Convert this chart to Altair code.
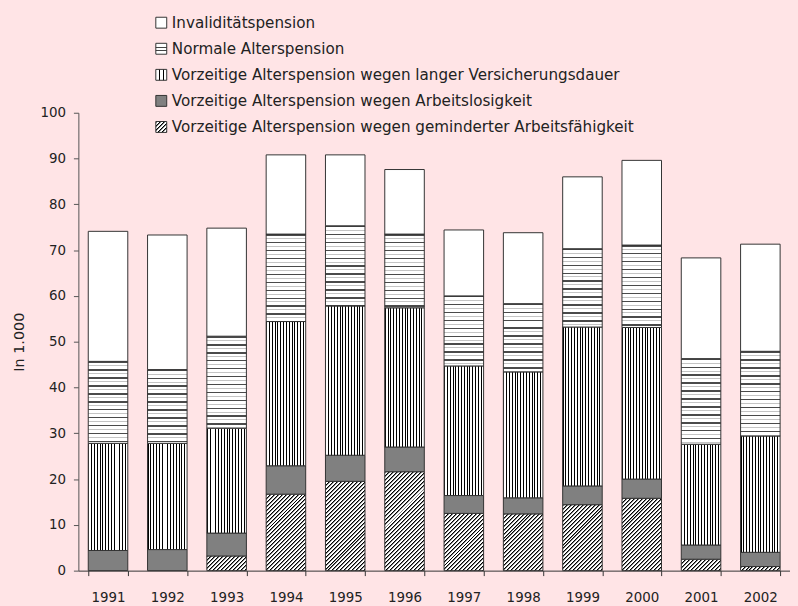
import json
import math
import altair as alt

# ---------------- data ----------------
years = ["1991", "1992", "1993", "1994", "1995", "1996",
         "1997", "1998", "1999", "2000", "2001", "2002"]

series = [
    "Invaliditätspension",
    "Normale Alterspension",
    "Vorzeitige Alterspension wegen langer Versicherungsdauer",
    "Vorzeitige Alterspension wegen Arbeitslosigkeit",
    "Vorzeitige Alterspension wegen geminderter Arbeitsfähigkeit",
]

# values in 1,000 (segment sizes)
invalid = [28.4, 29.4, 23.6, 17.3, 15.5, 14.1, 14.4, 15.5, 15.7, 18.5, 22.0, 23.4]
normal = [17.9, 16.1, 20.1, 19.1, 17.5, 16.1, 15.3, 14.9, 17.1, 18.0, 18.7, 18.5]
long_ins = [23.4, 23.2, 22.9, 31.5, 32.6, 30.4, 28.3, 27.5, 34.7, 33.1, 22.0, 25.4]
unemp = [4.4, 4.6, 5.0, 6.2, 5.7, 5.4, 3.9, 3.5, 4.1, 4.2, 3.1, 3.1]
reduced = [0.0, 0.0, 3.2, 16.7, 19.5, 21.6, 12.5, 12.4, 14.4, 15.8, 2.5, 0.9]

y_ticks = list(range(0, 101, 10))

# ---------------- layout / style ----------------
W, H = 718, 462
Y_MAX = 100
FONT = "DejaVu Sans"
BG = "#ffe4e6"
step = W / len(years)
bw = step * 2 / 3
ppu = H / Y_MAX


def tile(pattern, length):
    stops = []
    pos = 0.0
    while pos < length - 1e-9:
        for seg, col in pattern:
            a = pos / length
            b = min(pos + seg, length) / length
            stops.append({"offset": round(a, 6), "color": col})
            stops.append({"offset": round(b, 6), "color": col})
            pos += seg
            if pos >= length - 1e-9:
                break
    return stops


r2 = 1 / math.sqrt(2)
H_PAT = [(1.5, "#4a4a4a"), (2.5, "#ffffff"), (1.0, "#c4c4c4"), (3.0, "#ffffff")]
V_PAT = [(1.0, "#000000"), (1.85, "#ffffff")]
D_PAT = [(r2, "#000000"), (r2, "#808080"), (2 * r2, "#ffffff")]


def grad_h(h, pat=H_PAT):
    return {"gradient": "linear", "x1": 0, "y1": 0, "x2": 0, "y2": 1,
            "stops": tile(pat, max(h, 0.5))}


def grad_v(w, pat=V_PAT):
    return {"gradient": "linear", "x1": 0, "y1": 0, "x2": 1, "y2": 0,
            "stops": tile(pat, w)}


def grad_d(w, h, pat=D_PAT):
    h = max(h, 0.5)
    t = (w + h) / (w * w + h * h)
    return {"gradient": "linear", "x1": 0, "y1": 0,
            "x2": round(t * w, 6), "y2": round(t * h, 6),
            "stops": tile(pat, (w + h) / math.sqrt(2))}


# stacking order from the bottom up
stack_cols = [reduced, unemp, long_ins, normal, invalid]
stack_names = [series[4], series[3], series[2], series[1], series[0]]

records = []
chunks = []
CH = 16.0  # px, multiple of the 4px hatch period
for i, yr in enumerate(years):
    base = 0.0
    for k, (vals, name) in enumerate(zip(stack_cols, stack_names)):
        v = vals[i]
        if v <= 0:
            continue
        lo, hi = base, base + v
        h = v * ppu
        if k == 0:
            f = "transparent"
            top_px = (Y_MAX - hi) * ppu
            bot_px = (Y_MAX - lo) * ppu
            t = top_px
            while t < bot_px - 1e-6:
                b = min(t + CH + 1.0, bot_px)
                chunks.append({"year": yr,
                               "y0": Y_MAX - b / ppu, "y1": Y_MAX - t / ppu,
                               "pat": grad_d(bw, b - t)})
                t += CH
        elif k == 1:
            f = "#808080"
        elif k == 2:
            f = grad_v(bw)
        elif k == 3:
            f = grad_h(h)
        else:
            f = "#ffffff"
        records.append({"year": yr, "series": name, "y0": lo, "y1": hi, "pat": f})
        base = hi

data = alt.Data(values=records)
chunk_data = alt.Data(values=chunks)

# legend symbol patterns (11 x 11 squares)
S = 11
leg_fills = [
    "#ffffff",
    {"expr": json.dumps(grad_h(S, [(3.3, "#ffffff"), (1.2, "#444444"), (2.0, "#ffffff"),
                                   (1.2, "#444444"), (3.3, "#ffffff")]))},
    {"expr": json.dumps(grad_v(S, [(3.2, "#ffffff"), (1.0, "#000000"), (2.6, "#ffffff"),
                                   (1.0, "#000000"), (3.2, "#ffffff")]))},
    "#808080",
    {"expr": json.dumps(grad_d(S, S, D_PAT))},
]

x_enc = alt.X(
    "year:N", sort=years, title=None,
    scale=alt.Scale(paddingInner=1 / 3, paddingOuter=1 / 6),
    axis=alt.Axis(labelAngle=0, tickBand="extent", tickSize=5, grid=False,
                  domainColor="#333333", tickColor="#333333",
                  labelFont=FONT, labelFontSize=13.5, labelColor="#222222",
                  labelPadding=15),
)
y_enc = alt.Y(
    "y0:Q",
    scale=alt.Scale(domain=[0, Y_MAX], nice=False),
    axis=alt.Axis(title="In 1.000", values=y_ticks, tickSize=5, grid=False,
                  domainColor="#555555", tickColor="#555555",
                  labelFont=FONT, labelFontSize=13.5, labelColor="#222222",
                  labelPadding=8,
                  titleFont=FONT, titleFontSize=14.5, titleFontWeight="normal",
                  titleColor="#222222", titleAngle=-90, titleX=-59,
                  titleY=H / 2, titleAlign="center", titleBaseline="middle"),
)
y2_enc = alt.Y2("y1:Q")

hatch = alt.Chart(chunk_data).mark_bar(strokeWidth=0).encode(
    x=x_enc, y=y_enc, y2=y2_enc,
    fill=alt.Fill("pat:N", scale=None, legend=None),
)

bars = alt.Chart(data).mark_bar(stroke="#333333", strokeWidth=1).encode(
    x=x_enc, y=y_enc, y2=y2_enc,
    fill=alt.Fill("pat:N", scale=None, legend=None),
)

legend_layer = alt.Chart(data).mark_bar(opacity=0).encode(
    x=x_enc, y=y_enc, y2=y2_enc,
    color=alt.Color(
        "series:N",
        scale=alt.Scale(domain=series, range=leg_fills),
        legend=alt.Legend(
            orient="none", legendX=76, legendY=-98.5, title=None,
            symbolType="square", symbolSize=S * S,
            symbolStrokeColor="#333333", symbolStrokeWidth=1,
            symbolOpacity=1, labelFont=FONT, labelFontSize=15.3,
            labelColor="#222222", labelOffset=3, rowPadding=10.3,
            padding=0, labelLimit=700,
        ),
    ),
)

chart = alt.layer(hatch, bars, legend_layer).properties(
    width=W, height=H,
    autosize=alt.AutoSizeParams(type="none"),
    padding={"left": 71, "top": 103, "right": 0, "bottom": 33},
    background=BG,
).configure_view(stroke=None)

chart.save("out.html", embed_options={"renderer": "svg", "actions": False,
                                      "defaultStyle": "body{background:#ffe4e6;}"})
